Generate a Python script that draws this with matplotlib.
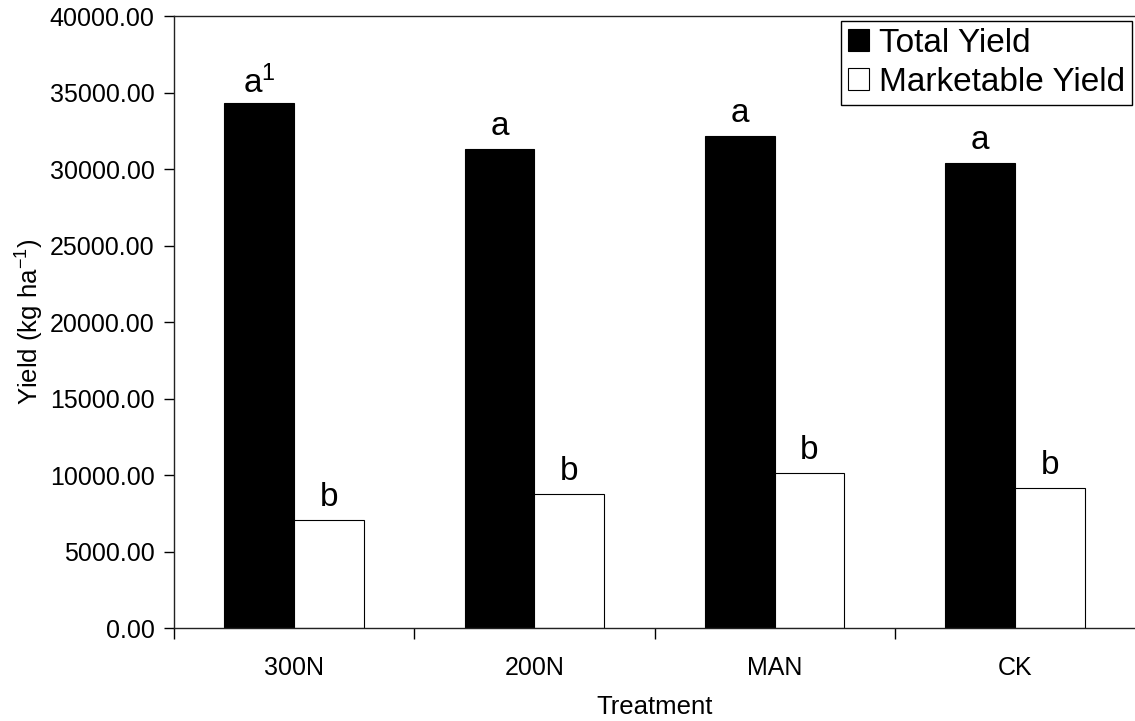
import matplotlib
matplotlib.use("Agg")
import matplotlib.pyplot as plt
import numpy as np
from matplotlib.ticker import FormatStrFormatter, FixedLocator

plt.rcParams['font.family'] = ['Liberation Sans', 'DejaVu Sans']
plt.rcParams['mathtext.fontset'] = 'custom'
plt.rcParams['mathtext.rm'] = 'Liberation Sans'
plt.rcParams['mathtext.it'] = 'Liberation Sans'
plt.rcParams['mathtext.bf'] = 'Liberation Sans:bold'

treatments = ["300N", "200N", "MAN", "CK"]
total_yield = [34300, 31300, 32150, 30400]
marketable_yield = [7100, 8800, 10150, 9150]
total_letters = ["a$^1$", "a", "a", "a"]
marketable_letters = ["b", "b", "b", "b"]
yticks = [0, 5000, 10000, 15000, 20000, 25000, 30000, 35000, 40000]

fig = plt.figure(figsize=(11.35, 7.21), dpi=100)
ax = fig.add_axes([174/1135, (721-628.3)/721, (1135-174)/1135, (628.3-16)/721])

x = np.arange(len(treatments))
w = 0.29
ax.bar(x - w/2, total_yield, w, color='black', edgecolor='black', linewidth=0.8, label='Total Yield')
ax.bar(x + w/2, marketable_yield, w, color='white', edgecolor='black', linewidth=0.8, label='Marketable Yield')

for xi, v, t in zip(x - w/2, total_yield, total_letters):
    off = 2 if '$' in t else 5
    ax.annotate(t, (xi, v), xytext=(0, off), textcoords='offset points', ha='center', va='bottom', fontsize=24)
for xi, v, t in zip(x + w/2, marketable_yield, marketable_letters):
    ax.annotate(t, (xi, v), xytext=(0, 5), textcoords='offset points', ha='center', va='bottom', fontsize=24)

ax.set_xlim(-0.5, 3.5)
ax.set_ylim(0, 40000)
ax.set_yticks(yticks)
ax.yaxis.set_major_formatter(FormatStrFormatter('%.2f'))
ax.set_xticks(x)
ax.set_xticklabels(treatments)
ax.xaxis.set_minor_locator(FixedLocator([-0.5, 0.5, 1.5, 2.5]))
ax.tick_params(axis='x', which='major', length=0, pad=20, labelsize=18)
ax.tick_params(axis='x', which='minor', length=8, direction='out', width=1)
ax.tick_params(axis='y', length=7, direction='out', width=1, labelsize=18, pad=7)

ax.spines['right'].set_visible(False)
for s in ['left', 'bottom', 'top']:
    ax.spines[s].set_linewidth(1.0)
    ax.spines[s].set_color('#222222')

ax.set_xlabel('Treatment', fontsize=18.5, labelpad=11)
ax.set_ylabel('Yield (kg ha$^{-1}$)', fontsize=18.5, labelpad=3)

leg = ax.legend(loc='upper right', bbox_to_anchor=(0.997, 0.992), borderaxespad=0,
                fontsize=24, fancybox=False, edgecolor='black', framealpha=1,
                handlelength=0.65, handleheight=0.65, handletextpad=0.3,
                borderpad=0.2, labelspacing=0.25)
leg.get_frame().set_linewidth(1.0)

fig.savefig('out.png', dpi=100)
